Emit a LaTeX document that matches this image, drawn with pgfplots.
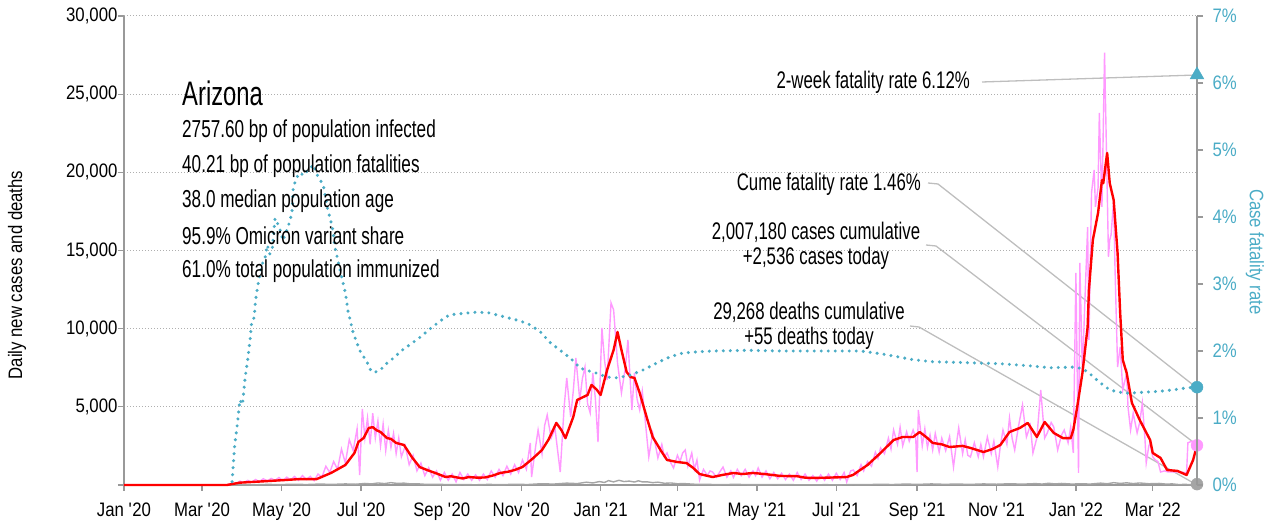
\documentclass[border=0pt]{standalone}
\usepackage{pgfplots}
\pgfplotsset{compat=1.18}
\usepackage{fontspec}
\setmainfont{Liberation Sans}[FakeStretch=0.70]
\newfontfamily\tickfont{Liberation Sans}[FakeStretch=0.86]
\definecolor{pinkc}{RGB}{255,153,255}
\definecolor{redc}{RGB}{255,0,0}
\definecolor{tealc}{RGB}{75,172,198}
\definecolor{deathc}{RGB}{165,165,165}
\definecolor{axisgray}{RGB}{153,153,153}
\definecolor{annotc}{RGB}{190,190,190}
\definecolor{gridc}{RGB}{175,175,175}
\begin{document}
\begin{tikzpicture}
\useasboundingbox (-124pt,-44pt) rectangle (1160pt,485pt);
% annotation leader lines
\draw[annotc, line width=1.3pt] (858pt,403pt) -- (1073pt,410pt);
\draw[annotc, line width=1.3pt] (804pt,302pt) -- (814pt,301pt) -- (1073pt,97pt);
\draw[annotc, line width=1.3pt] (802pt,240pt) -- (812pt,239pt) -- (1073pt,40pt);
\draw[annotc, line width=1.3pt] (786pt,159pt) -- (795pt,158pt) -- (1073pt,0pt);
\begin{axis}[
  at={(0pt,0pt)}, anchor=south west,
  scale only axis, width=1073pt, height=469pt,
  xmin=0, xmax=824, ymin=0, ymax=30000,
  clip=false,
  axis x line*=bottom, axis y line*=left,
  axis line style={axisgray, line width=1.3pt},
  tick style={axisgray, line width=1.3pt},
  tick align=outside, major tick length=6pt,
  xtick={0,60,121,182,244,305,366,425,486,547,609,670,731,790},
  xticklabels={Jan \textquotesingle20, Mar \textquotesingle20, May \textquotesingle20, Jul \textquotesingle20, Sep \textquotesingle20, Nov \textquotesingle20, Jan \textquotesingle21, Mar \textquotesingle21, May \textquotesingle21, Jul \textquotesingle21, Sep \textquotesingle21, Nov \textquotesingle21, Jan \textquotesingle22, Mar \textquotesingle22},
  xticklabel style={font=\tickfont\fontsize{19.5}{22}\selectfont, text=black, yshift=-8pt},
  ytick={5000,10000,15000,20000,25000,30000},
  scaled y ticks=false,
  yticklabel style={font=\tickfont\fontsize{19.5}{22}\selectfont, text=black, xshift=3pt, /pgf/number format/.cd, 1000 sep={,}, assume math mode=true},
  extra y ticks={0}, extra y tick labels={},
  extra y tick style={grid=none},
  ymajorgrids, major grid style={gridc, line width=1pt, dash pattern=on 1pt off 2pt},
]
\addplot[pinkc, line width=1.4pt] coordinates {
(0,0)(79,0)(83,120)(86,60)(89,250)(92,150)(95,300)(98,180)(101,350)(104,220)(107,400)(110,250)(113,420)(116,300)(119,480)(122,280)(125,500)(128,320)(131,550)(134,300)(137,600)(140,350)(143,550)(146,280)(149,700)(152,500)(155,1200)(158,800)(161,1500)(164,1000)(167,2300)(170,1400)(173,2900)(176,2200)(179,3600)(181,640)(183,4860)(185,3000)(187,4300)(189,2600)(191,4600)(193,3000)(195,4100)(197,2500)(199,3900)(201,2200)(203,3500)(205,2400)(207,3300)(209,2000)(211,3000)(213,1800)(216,2500)(219,1300)(222,1900)(225,900)(228,1400)(231,600)(234,1100)(237,500)(240,900)(243,300)(246,800)(249,300)(252,700)(255,200)(258,800)(261,350)(264,700)(267,300)(270,650)(273,300)(276,700)(279,350)(282,900)(285,500)(288,1000)(291,600)(294,1200)(297,700)(300,1300)(303,800)(306,1600)(309,1000)(312,2690)(313,510)(316,2400)(318,3520)(321,2000)(323,3800)(325,4480)(328,3000)(331,3600)(333,2200)(335,830)(338,5000)(340,6850)(343,4350)(345,6000)(347,8130)(350,5440)(352,6800)(354,7550)(356,5200)(358,4610)(360,7170)(362,5500)(364,2750)(367,10050)(369,8000)(371,6720)(374,11650)(376,11200)(379,7800)(382,5890)(385,7500)(387,9280)(390,4800)(392,7170)(394,5500)(396,4800)(398,6000)(400,4350)(403,1790)(406,3330)(408,2600)(410,1730)(413,2600)(415,1800)(417,2050)(420,1400)(422,1090)(425,1900)(427,1500)(429,2050)(431,2240)(433,1200)(436,2050)(438,1000)(440,1600)(442,320)(445,1000)(448,600)(450,900)(452,830)(455,500)(458,900)(460,1150)(463,500)(466,900)(468,480)(471,1000)(474,600)(477,1000)(480,500)(483,900)(485,600)(487,1090)(490,500)(493,900)(496,400)(499,800)(502,400)(505,750)(508,350)(511,700)(514,300)(517,800)(520,350)(523,700)(526,300)(529,600)(532,250)(535,650)(538,300)(541,700)(544,300)(547,750)(550,350)(553,800)(555,190)(558,900)(560,960)(563,600)(566,1300)(568,900)(571,1500)(574,1200)(577,2100)(579,1700)(581,2370)(584,2000)(587,3000)(589,2300)(591,3520)(594,2600)(596,3700)(598,2500)(601,3400)(603,2800)(606,3520)(608,3000)(609,830)(610,4800)(613,2500)(615,3600)(617,2400)(619,3200)(621,2240)(623,3300)(626,2100)(628,3000)(631,2200)(634,3100)(637,1150)(639,2500)(641,3650)(644,2000)(646,2900)(648,1900)(650,1790)(653,2700)(656,1800)(658,2600)(660,1800)(663,3070)(666,2000)(668,2800)(671,1150)(673,2500)(675,3520)(678,2600)(680,4290)(682,3000)(684,2240)(687,3800)(690,5120)(693,3070)(696,3800)(698,2050)(701,3000)(704,6080)(707,3000)(709,3330)(712,4000)(714,3710)(717,2240)(720,3200)(722,3520)(725,2700)(727,3710)(729,2050)(731,13560)(733,770)(734,14200)(736,7170)(738,12000)(740,16500)(741,9280)(743,18700)(745,20150)(746,17790)(748,19000)(749,23800)(751,17790)(753,27650)(755,19060)(756,14600)(757,15680)(758,16000)(760,18240)(761,13950)(763,7550)(765,8830)(767,6080)(770,7170)(771,5000)(773,3520)(775,4600)(778,3330)(780,4000)(782,5250)(784,3000)(785,1410)(787,2500)(788,2690)(790,1800)(792,1600)(794,1500)(796,830)(799,900)(802,830)(806,830)(810,830)(814,800)(816,800)(817,2700)(820,2800)(822,2600)(824,2536)
};
\addplot[deathc, line width=1.4pt] coordinates {
(0,0)(80,0)(90,20)(100,10)(110,40)(120,25)(130,50)(140,30)(150,60)(160,40)(170,70)(178,50)(185,100)(190,70)(195,130)(200,90)(205,150)(210,100)(215,120)(220,70)(225,80)(232,40)(240,50)(250,20)(260,30)(270,15)(280,40)(290,20)(300,50)(310,30)(320,80)(330,60)(340,120)(348,90)(355,180)(360,130)(365,220)(369,160)(372,280)(376,200)(380,300)(384,220)(388,250)(392,190)(395,270)(398,200)(402,200)(406,150)(410,180)(415,110)(420,130)(425,80)(430,90)(438,50)(445,50)(455,25)(470,40)(485,20)(500,30)(520,15)(540,20)(550,10)(560,30)(570,20)(580,50)(590,30)(600,60)(610,40)(620,70)(630,45)(640,60)(650,40)(660,70)(670,50)(680,80)(690,55)(700,90)(705,60)(710,110)(715,70)(720,100)(728,60)(735,80)(742,60)(750,120)(755,80)(760,150)(765,100)(770,140)(775,90)(780,130)(787,80)(795,100)(800,60)(805,70)(810,30)(815,40)(820,20)(824,55)
};
\addplot[redc, line width=2.4pt, line join=round] coordinates {
(0,0)(79,0)(89,150)(100,200)(124,320)(135,380)(148,380)(159,770)(170,1280)(177,2050)(180,2750)(184,3000)(188,3650)(191,3700)(194,3500)(197,3390)(202,3000)(205,2950)(209,2690)(215,2560)(221,1790)(227,1150)(233,950)(239,770)(247,510)(251,560)(256,480)(260,420)(265,510)(271,470)(277,480)(283,600)(289,770)(295,850)(300,960)(306,1150)(314,1700)(321,2240)(326,2900)(332,3970)(336,3500)(339,3000)(345,4350)(348,5440)(352,5600)(356,5760)(359,6400)(363,6100)(366,5760)(371,7360)(376,8640)(379,9790)(382,8640)(386,7230)(389,6900)(392,6850)(396,5890)(402,4160)(406,3070)(412,2240)(417,1600)(425,1470)(432,1400)(437,1100)(442,700)(452,510)(460,650)(468,770)(475,700)(483,770)(492,700)(504,580)(517,560)(523,470)(529,450)(540,470)(555,510)(560,650)(563,830)(571,1280)(581,2050)(591,2880)(598,3070)(606,3070)(611,3390)(617,3000)(621,2690)(628,2600)(634,2430)(644,2500)(650,2370)(660,2110)(667,2300)(673,2560)(680,3390)(688,3650)(694,3970)(701,3070)(707,4030)(714,3330)(721,3000)(727,3000)(729,3520)(732,4990)(736,7160)(740,10100)(741,12480)(744,15670)(748,17400)(751,19500)(752,19300)(755,21240)(757,19300)(760,18230)(763,14840)(765,11000)(767,8000)(770,7160)(774,5250)(780,4160)(784,3520)(788,2880)(790,2050)(796,1730)(801,960)(809,900)(816,640)(821,1600)(824,2536)
};
\addplot[only marks, mark=*, mark size=6pt, pinkc] coordinates {(824,2536)};
\addplot[only marks, mark=*, mark size=6pt, deathc] coordinates {(824,55)};
\end{axis}
\begin{axis}[
  at={(0pt,0pt)}, anchor=south west,
  scale only axis, width=1073pt, height=469pt,
  xmin=0, xmax=824, ymin=0, ymax=7,
  clip=false,
  axis x line=none, axis y line*=right,
  axis line style={axisgray, line width=1.3pt},
  tick style={axisgray, line width=1.3pt},
  tick align=outside, major tick length=6pt,
  ytick={0,1,2,3,4,5,6,7},
  yticklabels={0\%,1\%,2\%,3\%,4\%,5\%,6\%,7\%},
  yticklabel style={font=\tickfont\fontsize{19.5}{22}\selectfont, text=tealc, xshift=6pt},
]
\addplot[tealc, line width=3.4pt, line cap=round, dash pattern=on 0pt off 7pt] coordinates {
(83,0.05)(85,0.6)(87,0.9)(89,1.27)(91,1.2)(93,1.6)(95,1.87)(97,2.2)(98,2.43)(100,2.5)(101,2.76)(103,3.0)(106,3.3)(108,3.35)(110,3.58)(112,3.45)(114,3.55)(116,3.98)(118,3.9)(120,3.8)(122,3.65)(124,3.75)(126,3.85)(129,4.06)(130,4.45)(133,4.6)(135,4.66)(138,4.62)(141,4.7)(143,4.72)(145,4.78)(147,4.7)(149,4.6)(153,4.48)(156,4.15)(160,3.85)(162,3.55)(166,3.2)(170,2.87)(172,2.6)(176,2.27)(181,2.01)(187,1.82)(190,1.69)(194,1.69)(197,1.72)(202,1.82)(208,1.91)(212,1.99)(220,2.1)(227,2.2)(235,2.33)(243,2.45)(250,2.54)(260,2.56)(271,2.58)(280,2.57)(286,2.54)(296,2.49)(304,2.45)(312,2.39)(320,2.28)(327,2.13)(335,2.01)(343,1.89)(350,1.75)(355,1.71)(360,1.69)(371,1.61)(379,1.6)(389,1.64)(399,1.72)(409,1.82)(419,1.91)(429,1.97)(442,1.99)(452,2.0)(480,2.01)(504,2.0)(530,2.0)(565,2.0)(581,1.96)(595,1.91)(606,1.87)(621,1.84)(640,1.83)(673,1.81)(695,1.78)(711,1.75)(729,1.76)(735,1.74)(740,1.69)(747,1.57)(752,1.49)(757,1.42)(763,1.39)(770,1.37)(780,1.38)(796,1.40)(806,1.42)(816,1.45)(824,1.46)
};
\addplot[only marks, mark=triangle*, mark size=8pt, tealc] coordinates {(824,6.12)};
\addplot[only marks, mark=*, mark size=6pt, tealc] coordinates {(824,1.46)};
\end{axis}
% text block
\node[anchor=west, inner sep=0pt, font=\fontsize{34}{38}\selectfont] at (58pt,392pt) {Arizona};
\begin{scope}[every node/.style={anchor=west, inner sep=0pt, font=\fontsize{24.5}{27}\selectfont}]
\node at (58pt,354pt) {2757.60 bp of population infected};
\node at (58pt,319pt) {40.21 bp of population fatalities};
\node at (58pt,284pt) {38.0 median population age};
\node at (58pt,249pt) {95.9\% Omicron variant share};
\node at (58pt,214pt) {61.0\% total population immunized};
\end{scope}
\begin{scope}[every node/.style={inner sep=0pt, font=\fontsize{24}{25}\selectfont}]
\node[anchor=east] at (846pt,403pt) {2-week fatality rate 6.12\%};
\node[anchor=east] at (797pt,301pt) {Cume fatality rate 1.46\%};
\node[align=center] at (692pt,239pt) {2,007,180 cases cumulative\\+2,536 cases today};
\node[align=center] at (685pt,159pt) {29,268 deaths cumulative\\+55 deaths today};
\end{scope}
% axis titles
\node[rotate=90, inner sep=0pt, font=\tickfont\fontsize{19.5}{22}\selectfont] at (-107pt,210pt) {Daily new cases and deaths};
\node[rotate=-90, inner sep=0pt, font=\tickfont\fontsize{19.5}{22}\selectfont, text=tealc] at (1131pt,233pt) {Case fatality rate};
\end{tikzpicture}
\end{document}
